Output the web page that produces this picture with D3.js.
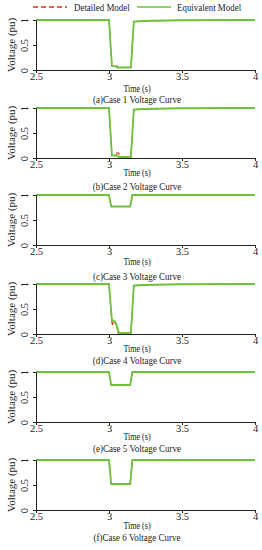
<!DOCTYPE html>
<html><head><meta charset="utf-8">
<script src="https://cdn.jsdelivr.net/npm/d3@7"></script>
<style>body{margin:0;background:#fff}svg{display:block}text{font-family:"Liberation Serif","Times New Roman",serif;fill:#222}</style>
</head><body><div id="c"></div>
<script>
// ---- data ----
const xTicks = [2.5, 3, 3.5, 4];
const xTickLabels = ["2.5", "3", "3.5", "4"];
const yTicks = [0, 0.5, 1];
const yTickLabels = ["0", "0.5", "1"];
const legendLabels = ["Detailed Model", "Equivalent Model"];
const captions = ["(a)Case 1 Voltage Curve", "(b)Case 2 Voltage Curve", "(c)Case 3 Voltage Curve",
                  "(d)Case 4 Voltage Curve", "(e)Case 5 Voltage Curve", "(f)Case 6 Voltage Curve"];

const eqTime1 = [2.5, 3.0, 3.02, 3.05, 3.055, 3.15, 3.17, 3.2, 3.3, 3.5, 4.0];
const eqVolt1 = [1, 1, 0.08, 0.07, 0.05, 0.05, 0.97, 0.975, 0.985, 0.995, 1];
const detTime1 = [2.5, 3.0, 3.02, 3.045, 3.05, 3.055, 3.06, 3.15, 3.17, 3.2, 3.3, 3.5, 4.0];
const detVolt1 = [1, 1, 0.08, 0.07, 0.1, 0.09, 0.05, 0.05, 0.97, 0.975, 0.985, 0.995, 1];

const eqTime2 = [2.5, 3.0, 3.02, 3.05, 3.07, 3.15, 3.17, 3.2, 3.3, 3.5, 4.0];
const eqVolt2 = [1, 1, 0.05, 0.05, 0.02, 0.02, 0.97, 0.975, 0.985, 0.995, 1];
const detTime2 = [2.5, 3.0, 3.02, 3.05, 3.055, 3.06, 3.065, 3.07, 3.075, 3.15, 3.17, 3.2, 3.3, 3.5, 4.0];
const detVolt2 = [1, 1, 0.05, 0.05, 0.1, 0.07, 0.1, 0.07, 0.02, 0.02, 0.97, 0.975, 0.985, 0.995, 1];

const eqTime3 = [2.5, 3.0, 3.015, 3.145, 3.16, 4.0];
const eqVolt3 = [1, 1, 0.77, 0.77, 1, 1];
const detTime3 = eqTime3;
const detVolt3 = eqVolt3;

const eqTime4 = [2.5, 3.0, 3.02, 3.03, 3.045, 3.055, 3.065, 3.07, 3.15, 3.17, 3.2, 3.3, 3.5, 4.0];
const eqVolt4 = [1, 1, 0.27, 0.27, 0.23, 0.15, 0.05, 0.02, 0.02, 0.97, 0.975, 0.985, 0.995, 1];
const detTime4 = [2.5, 3.0, 3.018, 3.022, 3.03, 3.045, 3.055, 3.062, 3.066, 3.15, 3.17, 3.2, 3.3, 3.5, 4.0];
const detVolt4 = [1, 1, 0.3, 0.17, 0.25, 0.21, 0.12, 0.03, 0.0, 0.02, 0.97, 0.975, 0.985, 0.995, 1];

const eqTime5 = [2.5, 3.0, 3.015, 3.145, 3.16, 4.0];
const eqVolt5 = [1, 1, 0.74, 0.74, 1, 1];
const detTime5 = eqTime5;
const detVolt5 = eqVolt5;

const eqTime6 = [2.5, 3.0, 3.015, 3.145, 3.16, 4.0];
const eqVolt6 = [1, 1, 0.52, 0.52, 1, 1];
const detTime6 = eqTime6;
const detVolt6 = eqVolt6;

const cases = [
  {eqT: eqTime1, eqV: eqVolt1, dT: detTime1, dV: detVolt1},
  {eqT: eqTime2, eqV: eqVolt2, dT: detTime2, dV: detVolt2},
  {eqT: eqTime3, eqV: eqVolt3, dT: detTime3, dV: detVolt3},
  {eqT: eqTime4, eqV: eqVolt4, dT: detTime4, dV: detVolt4},
  {eqT: eqTime5, eqV: eqVolt5, dT: detTime5, dV: detVolt5},
  {eqT: eqTime6, eqV: eqVolt6, dT: detTime6, dV: detVolt6}
];

// ---- layout ----
const W = 262, H = 550;
const left = 36, right = 255;
const panelTop = [20, 108, 195, 284, 372, 460];
const panelH = 50;
const timeOff = [19, 15, 17, 15, 15, 16];
const capOff = [29, 28, 31, 26, 26, 27];
const GREEN = "#6cc23a", RED = "#e0301e";

const svg = d3.select("#c").append("svg").attr("width", W).attr("height", H);
const x = d3.scaleLinear().domain([2.5, 4]).range([left, right]);

cases.forEach((c, i) => {
  const top = panelTop[i], bot = top + panelH;
  const y = d3.scaleLinear().domain([0, 1]).range([bot, top]);
  const g = svg.append("g");
  const line = d3.line().x(d => x(d[0])).y(d => y(d[1]));
  g.append("path").datum(c.dT.map((t, k) => [t, c.dV[k]]))
    .attr("d", line).attr("fill", "none").attr("stroke", RED).attr("stroke-width", 1.1)
    .attr("stroke-dasharray", "3,2");
  g.append("path").datum(c.eqT.map((t, k) => [t, c.eqV[k]]))
    .attr("d", line).attr("fill", "none").attr("stroke", GREEN).attr("stroke-width", 1.8);
  // axes
  const xa = g.append("g").attr("transform", `translate(0,${bot})`)
    .call(d3.axisBottom(x).tickValues(xTicks).tickSize(3).tickFormat((d, k) => xTickLabels[k]));
  xa.attr("font-family", null);
  xa.select(".domain").attr("stroke", "#222").attr("stroke-width", 1);
  xa.selectAll(".tick line").attr("stroke", "#222");
  xa.selectAll(".tick text").attr("font-size", 10.5).attr("fill", "#222").attr("dy", "0.6em").attr("y", 4);
  const ya = g.append("g").attr("transform", `translate(${left},0)`)
    .call(d3.axisLeft(y).tickValues(yTicks).tickSize(3).tickFormat((d, k) => yTickLabels[k]));
  ya.attr("font-family", null);
  ya.select(".domain").attr("stroke", "#222").attr("stroke-width", 1);
  ya.selectAll(".tick line").attr("stroke", "#222");
  ya.selectAll(".tick text").attr("font-size", 10.5).attr("fill", "#222")
    .attr("x", null).attr("dy", null).attr("text-anchor", "middle")
    .attr("transform", "translate(-8,0) rotate(-90)");
  g.append("text").attr("transform", `translate(11,${(top + bot) / 2}) rotate(-90)`)
    .attr("text-anchor", "middle").attr("dy", "0.35em").attr("font-size", 11).text("Voltage (pu)");
  g.append("text").attr("transform", `translate(137,${bot + timeOff[i]}) scale(0.85,1)`)
    .attr("text-anchor", "middle").attr("dy", "0.35em").attr("font-size", 9.5).text("Time (s)");
  g.append("text").attr("transform", `translate(137,${bot + capOff[i]}) scale(0.9,1)`)
    .attr("text-anchor", "middle").attr("dy", "0.35em").attr("font-size", 10).text(captions[i]);
});

// legend
const lg = svg.append("g");
lg.append("line").attr("x1", 33).attr("x2", 67).attr("y1", 7).attr("y2", 7)
  .attr("stroke", RED).attr("stroke-width", 1.6).attr("stroke-dasharray", "5,3");
lg.append("text").attr("transform", "translate(74,7) scale(0.85,1)").attr("dy", "0.35em").attr("font-size", 10.5).text(legendLabels[0]);
lg.append("line").attr("x1", 137).attr("x2", 171).attr("y1", 7).attr("y2", 7)
  .attr("stroke", GREEN).attr("stroke-width", 1.6);
lg.append("text").attr("transform", "translate(177,7) scale(0.85,1)").attr("dy", "0.35em").attr("font-size", 10.5).text(legendLabels[1]);
</script></body></html>
